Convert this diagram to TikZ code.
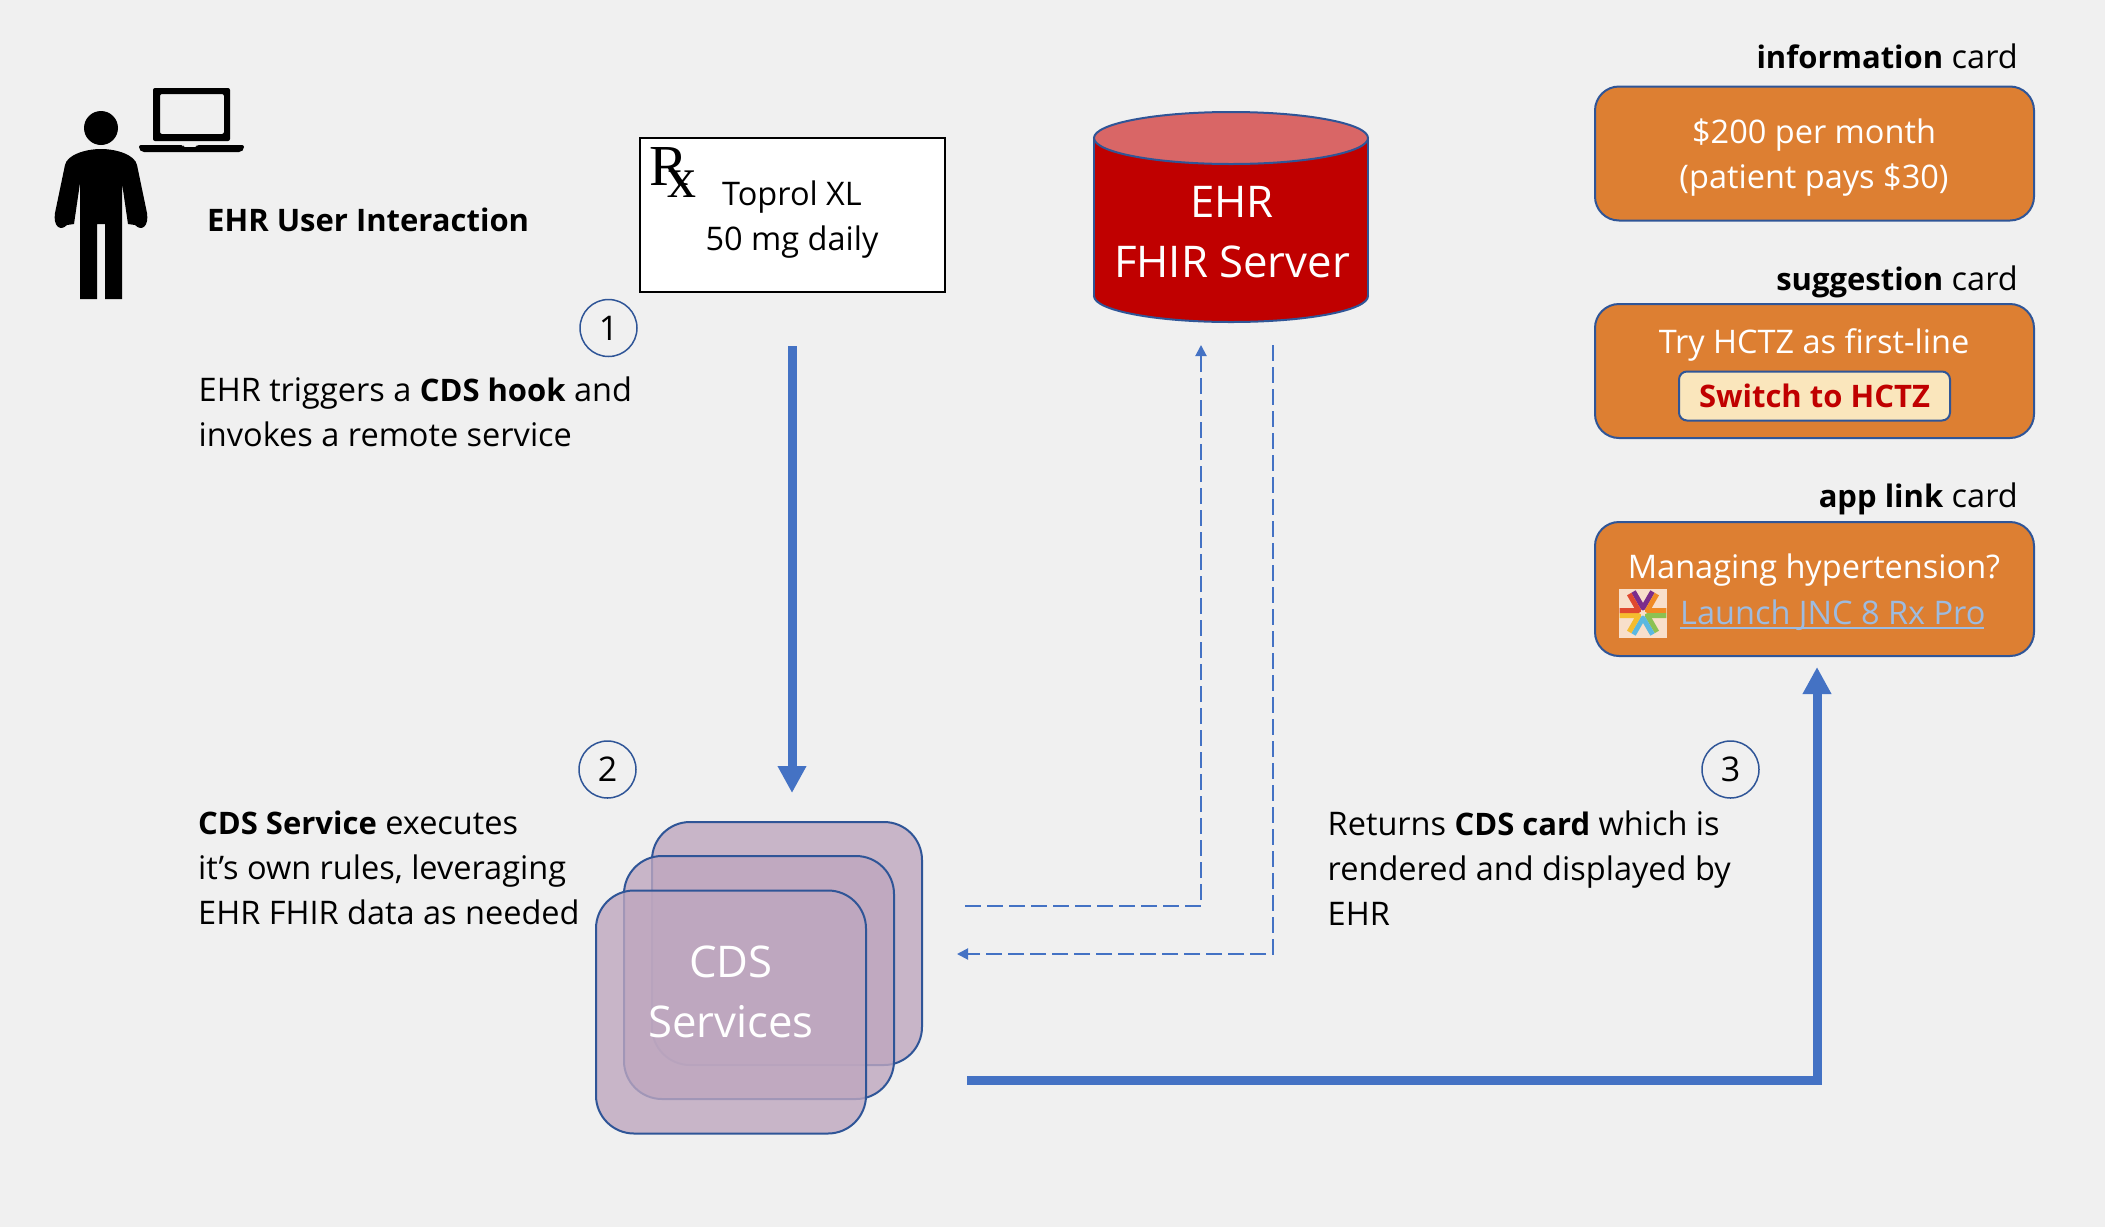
\documentclass[tikz,border=0pt]{standalone}
\usepackage{fontspec}
\setmainfont{Open Sans}
\newfontfamily\rxfont{Liberation Serif}
\usetikzlibrary{arrows.meta}
\usepackage{xcolor}
\definecolor{pagebg}{HTML}{F0F0F0}
\definecolor{edgeblue}{HTML}{2F5597}
\definecolor{flowblue}{HTML}{4472C4}
\definecolor{cardorange}{HTML}{DD7F32}
\definecolor{btnfill}{HTML}{FAE6BC}
\definecolor{ehrred}{HTML}{C00000}
\definecolor{ehrtop}{HTML}{D96666}
\definecolor{stackfill}{RGB}{190,167,191}
\definecolor{linkblue}{HTML}{9DBBE0}
\definecolor{iconbg}{HTML}{F8DFCB}
\definecolor{spokepurple}{HTML}{7B2D8B}
\definecolor{spokered}{HTML}{E0492F}
\definecolor{spokeorange}{HTML}{F08A24}
\definecolor{spokeyellow}{HTML}{F5BC2F}
\definecolor{spokeblue}{HTML}{5BB8E0}
\definecolor{spokegreen}{HTML}{8CC152}
\newcommand{\txt}{\fontsize{32.5}{45}\selectfont}
\newcommand{\bigtxt}{\fontsize{43.7}{61}\selectfont}
\newcommand{\bld}[1]{{\fontsize{31}{45}\selectfont\bfseries #1}}
\tikzstyle{numdot}=[circle, draw=edgeblue, line width=1.5pt, minimum size=57pt, inner sep=0pt, font=\fontsize{34}{36}\selectfont]
\tikzstyle{card}=[draw=edgeblue, line width=2pt, rounded corners=24pt, fill=cardorange, minimum width=439pt, minimum height=134pt]
\tikzstyle{stack}=[draw=edgeblue, line width=2pt, rounded corners=38pt, fill=stackfill, fill opacity=.8, draw opacity=1, minimum width=270pt, minimum height=243pt]
\tikzstyle{note}=[anchor=base west, align=left, inner sep=0pt, font=\txt]
\tikzstyle{head}=[anchor=base east, inner sep=0pt, font=\txt]
\tikzstyle{cardtext}=[text=white, inner sep=0pt, font=\txt]
\tikzstyle{flow}=[flowblue, line width=9pt, -{Triangle[length=27pt,width=27pt]}]
\tikzstyle{back}=[flowblue, line width=2pt, dash pattern=on 16pt off 6pt, -{Triangle[length=11pt,width=11pt]}]
\newcommand{\card}{\node[card]}
\newcommand{\note}{\node[note]}

\begin{document}
\begin{tikzpicture}[x=1pt,y=-1pt]
\fill[pagebg] (0,0) rectangle (2105,1227);
\useasboundingbox (0,0) rectangle (2105,1227);

\fill (101,128) ellipse (17 and 17);
\fill (80,299) -- (80,183) -- (74,224) -- (67,225)
	.. controls (60,232) and (53,226) .. (55,213)
	-- (65,165) .. controls (67,155) and (85,149) .. (101,149)
	.. controls (117,149) and (135,155) .. (137,165)
	-- (147,213) .. controls (149,226) and (142,232) .. (135,225)
	-- (128,224) -- (122,183) -- (122,299) -- (105,299) -- (105,224) -- (97,224) -- (97,299) -- cycle;
\fill[even odd rule, rounded corners=2pt] (153,88) rectangle (230,141) (160,94) rectangle (224,134);
\fill[rounded corners=2pt] (139,145) -- (183,145) -- (183,147) -- (197,147) -- (197,145) -- (244,145) -- (244,149) -- (241,152) -- (142,152) -- (139,149) -- cycle;
\node[anchor=base west, inner sep=0pt, font=\fontsize{31}{45}\selectfont\bfseries] (userlabel) at (207,231) {EHR User Interaction};

\node[draw=black, line width=2.5pt, fill=white, minimum width=305pt, minimum height=154pt, inner sep=0pt] (rxbox) at (792.5,215) {};
\node[anchor=base west, inner sep=0pt, font=\fontsize{58}{58}\selectfont\rxfont] (rxsign) at (649,185) {R\kern-20pt\raisebox{-12pt}{x}};
\node[inner sep=0pt, font=\txt] (toprol) at (792,197) {Toprol XL};
\node[inner sep=0pt, font=\txt] (dose) at (792,242) {50 mg daily};

\draw[edgeblue, line width=2pt, fill=ehrred] (1231,296) ellipse (137 and 26);
\fill[ehrred] (1094,138) rectangle (1368,296);
\draw[edgeblue, line width=2pt] (1094,138) -- (1094,296) (1368,138) -- (1368,296);
\draw[edgeblue, line width=2pt, fill=ehrtop] (1231,138) ellipse (137 and 26);
\node[text=white, inner sep=0pt, font=\bigtxt] (serverone) at (1232,202) {EHR};
\node[text=white, inner sep=0pt, font=\bigtxt] (servertwo) at (1232,262) {FHIR Server};

\node[numdot] (one) at (608.5,328) {1};
\node[numdot] (two) at (607.5,769.5) {2};
\node[numdot] (three) at (1730.5,769.5) {3};

\note (hooktext) at (198.5,446) {EHR triggers a \bld{CDS hook} and\\invokes a remote service};
\note (svctext) at (198,924) {\bld{CDS Service} executes\\it’s own rules, leveraging\\EHR FHIR data as needed};
\note (rettext) at (1327.5,925) {Returns \bld{CDS card} which is\\rendered and displayed by\\EHR};

\foreach \i/\cx/\cy in {back/787/943.5, mid/759/977.5, front/731/1012}{
	\node[stack] (\i) at (\cx,\cy) {};
	}
\node[text=white, inner sep=0pt, font=\bigtxt] (cdsone) at (731,961.5) {CDS};
\node[text=white, inner sep=0pt, font=\bigtxt] (cdstwo) at (731,1022) {Services};

\coordinate (hookfrom) at (792,346);
\coordinate (hookto) at (792,793);
\draw[flow] (hookfrom) -- (hookto);
\coordinate (cardfrom) at (967,1080);
\coordinate (cardturn) at (1817,1080);
\coordinate (cardto) at (1817,667);
\draw[flow, line join=miter] (cardfrom) -- (cardturn) -- (cardto);

\coordinate (askfrom) at (965,906);
\coordinate (askturn) at (1201,906);
\coordinate (askto) at (1201,345);
\draw[back] (askfrom) -- (askturn) -- (askto);
\coordinate (ansfrom) at (1273,345);
\coordinate (ansturn) at (1273,954);
\coordinate (ansto) at (957,954);
\draw[back] (ansfrom) -- (ansturn) -- (ansto);

\node[head] (infohead) at (2018,68) {\bld{information} card};
\card (infocard) at (1814.5,153.5) {};
\node[cardtext] (infoone) at (1814,135) {\$200 per month};
\node[cardtext] (infotwo) at (1814,180) {(patient pays \$30)};

\node[head] (sughead) at (2018,290) {\bld{suggestion} card};
\card (sugcard) at (1814.5,371) {};
\node[cardtext] (sugone) at (1814,345) {Try HCTZ as first-line};
\node[draw=edgeblue, line width=2pt, rounded corners=8pt, fill=btnfill, text=ehrred, minimum width=271pt, minimum height=49pt, inner sep=0pt, font=\fontsize{31}{45}\selectfont\bfseries] (sugbtn) at (1814.5,396) {Switch to HCTZ};

\node[head] (apphead) at (2018,507) {\bld{app link} card};
\card (appcard) at (1814.5,589) {};
\node[cardtext] (appone) at (1814,570.5) {Managing hypertension?};
\node[fill=iconbg, minimum width=48pt, minimum height=49pt, inner sep=0pt] (appicon) at (1643,613) {};
\foreach \col/\ang in {spokepurple/270, spokeorange/330, spokegreen/30, spokeblue/90, spokeyellow/150, spokered/210}{
	\draw[\col, line width=5pt, line join=round] ([shift={(1643,613)}]\ang:5) ++(\ang-30:19) -- ([shift={(1643,613)}]\ang:5) -- ++(\ang+30:19);
	}
\node[anchor=west, text=linkblue, inner sep=0pt, font=\txt] (applink) at (1680,615) {Launch JNC 8 Rx Pro};
\coordinate (linkleft) at (1680,628);
\coordinate (linkright) at (1984,628);
\draw[linkblue, line width=2pt] (linkleft) -- (linkright);
\end{tikzpicture}
\end{document}
